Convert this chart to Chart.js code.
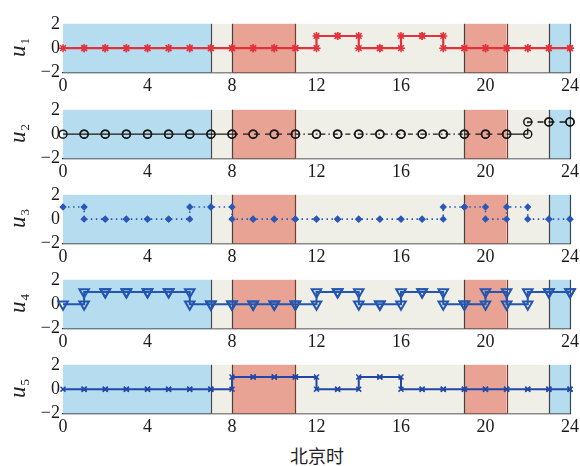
<!DOCTYPE html>
<html>
<head>
<meta charset="UTF-8">
<title>u1-u5 stairs</title>
<script src="https://cdn.jsdelivr.net/npm/chart.js"></script>
<style>
  body { margin: 0; background: #fff; overflow: hidden; }
  #wrap { position: relative; width: 580px; height: 466px; background: #fff; overflow: hidden; }
  #wrap canvas { position: absolute; left: 0; }
  #xtitle {
    position: absolute; left: 63px; width: 508px; top: 442px;
    text-align: center; font: 18px 'Noto Sans CJK SC', sans-serif; color: #222;
  }
</style>
</head>
<body>
<div id="wrap">
  <div id="xtitle">北京时</div>
</div>

<script>
// hour value holds from h to h+1
const hours = [0,1,2,3,4,5,6,7,8,9,10,11,12,13,14,15,16,17,18,19,20,21,22,23,24];
const u1 = [0,0,0,0,0,0,0,0,0,0,0,0,1,1,0,0,1,1,0,0,0,0,0,0,0];
const u2 = [0,0,0,0,0,0,0,0,0,0,0,0,0,0,0,0,0,0,0,0,0,0,1,1,1];
const u3 = [1,0,0,0,0,0,1,1,0,0,0,0,0,0,0,0,0,0,1,1,0,1,0,0,0];
const u4 = [0,1,1,1,1,1,0,0,0,0,0,0,1,1,0,0,1,1,0,0,1,0,1,1,1];
const u5 = [0,0,0,0,0,0,0,0,1,1,1,1,0,0,1,1,0,0,0,0,0,0,0,0,0];

// tariff periods
const bandStart = [0, 7, 8, 11, 19, 21, 23];
const bandEnd   = [7, 8, 11, 19, 21, 23, 24];
const bandType  = ['valley', 'flat', 'peak', 'flat', 'peak', 'flat', 'valley'];

const xTicks = [0, 4, 8, 12, 16, 20, 24];
const yTicks = [-2, 0, 2];

const bandFill = { valley: '#b6dcef', flat: '#efefe7', peak: '#e9a394' };
const bandEdge = { valley: '#3a4a50', flat: '#444', peak: '#7a3b32' };

const panelTop = [20, 106, 190.5, 276, 360.5];
const plotH = 52.5;
const PAD = 10, CH = 92;
const tickFont = { family: "'Liberation Serif', serif", size: 18 };

function stairs(v) {
  const pts = [];
  v.forEach((y, i) => {
    if (i > 0) pts.push({ x: hours[i], y: v[i - 1] });
    pts.push({ x: hours[i], y: y });
  });
  return pts;
}

const bandsPlugin = {
  id: 'bands',
  beforeDatasetsDraw(chart) {
    const { ctx, chartArea: a, scales: { x } } = chart;
    ctx.save();
    bandStart.forEach((s, i) => {
      const x0 = x.getPixelForValue(s), x1 = x.getPixelForValue(bandEnd[i]);
      ctx.fillStyle = bandFill[bandType[i]];
      ctx.fillRect(x0, a.top, x1 - x0, a.bottom - a.top);
    });
    ctx.lineWidth = 1.2;
    bandStart.forEach((s, i) => {
      const xe = Math.round(x.getPixelForValue(bandEnd[i])) + 0.5;
      ctx.strokeStyle = bandEdge[bandType[i]];
      ctx.beginPath(); ctx.moveTo(xe, a.top); ctx.lineTo(xe, a.bottom); ctx.stroke();
    });
    ctx.restore();
  }
};

const ylabelPlugin = {
  id: 'ylabel',
  afterDraw(chart, args, opts) {
    const { ctx, chartArea: a } = chart;
    ctx.save();
    ctx.translate(25, (a.top + a.bottom) / 2);
    ctx.rotate(-Math.PI / 2);
    ctx.fillStyle = '#222';
    ctx.textBaseline = 'alphabetic';
    ctx.font = "italic 23px 'Liberation Serif', serif";
    const w = ctx.measureText('u').width;
    ctx.fillText('u', -w / 2 - 3, 0);
    ctx.font = "13px 'Liberation Serif', serif";
    ctx.fillText(opts.sub, w / 2 - 2, 4);
    ctx.restore();
  }
};

const series = [
  { v: u1, sub: '1', color: '#e2323c', width: 2.2, point: 'star', r: 4, fill: '#e2323c' },
  { v: u2, sub: '2', color: '#1a1a1a', width: 1.3, point: 'circle', r: 4, fill: 'rgba(0,0,0,0)', dashed: true },
  { v: u3, sub: '3', color: '#2a58b8', width: 1.6, point: 'rectRot', r: 2.6, fill: '#2a58b8', dash: [1.5, 3.5] },
  { v: u4, sub: '4', color: '#2356b0', width: 2, point: 'triangle', r: 5.5, fill: 'rgba(0,0,0,0)', rot: 180 },
  { v: u5, sub: '5', color: '#2148a8', width: 2, point: 'crossRot', r: 3.5, fill: '#2148a8' }
];

function u2Dash(ctx) {
  const xm = (ctx.p0.parsed.x + ctx.p1.parsed.x) / 2;
  if (xm < 8) return [];
  if (xm < 11) return [6, 5];
  if (xm < 19) return [5, 3, 1.5, 3];
  if (xm < 21) return [6, 5];
  if (xm < 22) return [];
  return [6, 5];
}

const wrap = document.getElementById('wrap');
series.forEach((s, i) => {
  const cv = document.createElement('canvas');
  cv.width = 582; cv.height = CH;
  cv.style.top = (panelTop[i] - PAD) + 'px';
  wrap.appendChild(cv);

  new Chart(cv, {
    type: 'line',
    data: {
      datasets: [{
        data: stairs(s.v),
        borderColor: s.color,
        borderWidth: s.width,
        borderDash: s.dash || [],
        segment: s.dashed ? { borderDash: u2Dash } : undefined,
        pointStyle: s.point,
        pointRadius: s.r,
        pointRotation: s.rot || 0,
        pointBorderColor: s.color,
        pointBackgroundColor: s.fill,
        pointBorderWidth: s.point === 'triangle' ? 2 : 1.5,
        tension: 0,
        clip: false
      }]
    },
    options: {
      responsive: false,
      animation: false,
      events: [],
      layout: { padding: { top: PAD, right: 6, left: 0, bottom: 0 } },
      plugins: { legend: { display: false }, tooltip: { enabled: false }, ylabel: { sub: s.sub } },
      scales: {
        x: {
          type: 'linear', min: 0, max: 24,
          afterBuildTicks: sc => { sc.ticks = xTicks.map(v => ({ value: v })); },
          afterFit: sc => { sc.height = CH - PAD - plotH; },
          ticks: { font: tickFont, color: '#1a1a1a', padding: 3, maxRotation: 0, autoSkip: false },
          grid: { display: false, drawTicks: false },
          border: { display: true, color: '#222', width: 1.3 }
        },
        y: {
          min: -2, max: 2,
          afterBuildTicks: sc => { sc.ticks = yTicks.map(v => ({ value: v })); },
          afterFit: sc => { sc.width = 63; },
          ticks: { font: tickFont, color: '#1a1a1a', padding: 3, autoSkip: false,
                   callback: v => String(v).replace('-', '\u2212') },
          grid: { display: false, drawTicks: false },
          border: { display: false }
        }
      }
    },
    plugins: [bandsPlugin, ylabelPlugin]
  });
});
</script>
</body>
</html>
